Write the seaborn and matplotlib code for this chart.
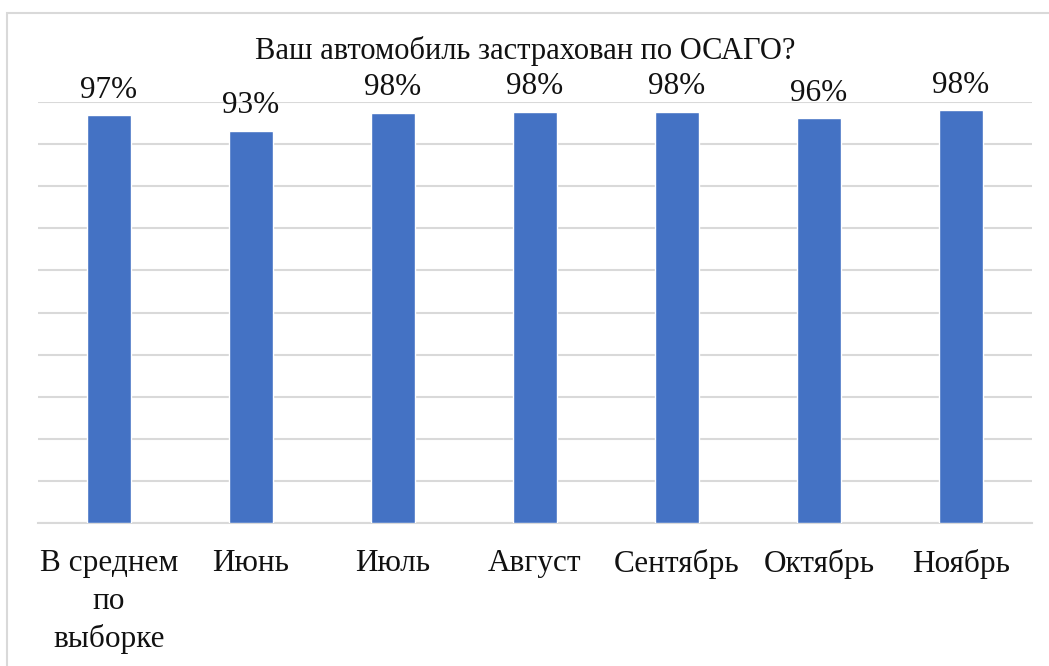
import numpy as np
import pandas as pd
import matplotlib
matplotlib.use("Agg")
import matplotlib.pyplot as plt
import seaborn as sns
from matplotlib.patches import Rectangle

categories = ["В среднем\nпо\nвыборке", "Июнь", "Июль", "Август", "Сентябрь", "Октябрь", "Ноябрь"]
values = [96.9, 93.2, 97.5, 97.7, 97.7, 96.1, 98.0]
labels = ["97%", "93%", "98%", "98%", "98%", "96%", "98%"]
title = "Ваш автомобиль застрахован по ОСАГО?"

df = pd.DataFrame({"cat": categories, "val": values})

sns.set_style("white")
plt.rcParams["font.family"] = ["Liberation Serif", "DejaVu Serif"]

W, H = 1049, 666
fig = plt.figure(figsize=(W / 100, H / 100), dpi=100)
ax = fig.add_axes([38 / W, (H - 523) / H, (1032 - 38) / W, (523 - 102) / H])

# chart frame
fig.patches.append(Rectangle((7 / W, -0.1), 1.2, (H - 13) / H + 0.1,
                             transform=fig.transFigure, fill=False,
                             edgecolor="#D9D9D9", lw=1.5))

sns.barplot(data=df, x="cat", y="val", color="#4472C4", saturation=1,
            width=0.31, ax=ax, zorder=3)

ax.set_xlim(-0.5, len(categories) - 0.5)
ax.set_ylim(0, 100)
ax.set_yticks(np.arange(0, 101, 10))
ax.yaxis.grid(True, color="#D9D9D9", lw=1.5, zorder=0)
ax.set_yticklabels([])
ax.tick_params(axis="y", length=0)
ax.tick_params(axis="x", length=0, pad=19, labelsize=22.5, colors="#111111")
for t in ax.get_xticklabels():
    t.set_linespacing(1.38)
for s in ["top", "right", "left"]:
    ax.spines[s].set_visible(False)
ax.spines["bottom"].set_color("#D9D9D9")
ax.spines["bottom"].set_linewidth(1.5)
ax.set_xlabel("")
ax.set_ylabel("")

ax.bar_label(ax.containers[0], labels=labels, padding=7.5, fontsize=22.5, color="#111111")

fig.text(525 / W, (H - 51) / H, title, ha="center", va="center", fontsize=22, color="#111111")

fig.savefig("out.png", dpi=100)
